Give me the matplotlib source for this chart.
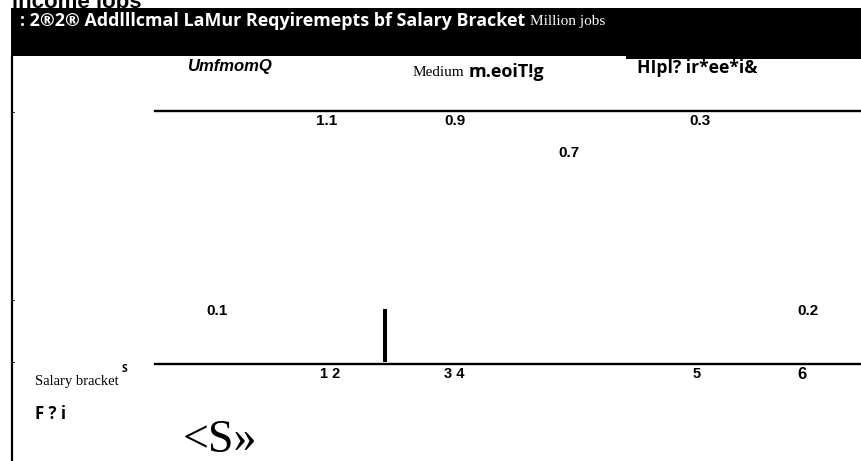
import matplotlib
matplotlib.use("Agg")
import matplotlib.pyplot as plt
from matplotlib.patches import Rectangle

# ---- data ----
title_text = ": 2®2® Addlllcmal LaMur Reqyiremepts bf Salary Bracket"
unit_text = "Million jobs"
top_cut_text = "income jobs"
series_names = ["UmfmomQ", "Medium", "m.eoiT!g", "HIpl? ir*ee*i&"]
value_labels = [1.1, 0.9, 0.3, 0.7, 0.1, 0.2]
tick_labels = ["1 2", "3 4", "5", "6"]
bar_values = [0.25]
axis_label = "Salary bracket"
axis_sup = "S"
note_text = "F ? i"
logo_text = "<S»"

# ---- layout (pixels) ----
W, H = 862, 461
SANS = "Liberation Sans"
SEGOE = "Open Sans"
SERIF = "Liberation Serif"

fig = plt.figure(figsize=(W / 100, H / 100), dpi=100)
bg = fig.add_axes([0, 0, 1, 1])
bg.set_xlim(0, W)
bg.set_ylim(H, 0)
bg.axis("off")

# top cut text
bg.text(12, 8, top_cut_text, fontsize=16, fontweight="bold", family=SANS,
        ha="left", va="baseline", color="black", clip_on=False)

# banner
bg.add_patch(Rectangle((11, 8), W - 11, 48, color="black", lw=0))
bg.add_patch(Rectangle((626, 55), W - 626, 4, color="black", lw=0))
bg.text(20, 21, title_text, fontsize=12.9, fontweight="bold", family=SEGOE,
        color="white", ha="left", va="center")
bg.text(530, 22, unit_text, fontsize=11, family=SERIF, color="white",
        ha="left", va="center")

# left border
bg.plot([12.5, 12.5], [56, H], color="black", lw=1.6, solid_capstyle="butt")
for yy in (112, 300, 362):
    bg.plot([12.5, 14.5], [yy, yy], color="black", lw=0.6)

# series header labels
name_pos = [(187, 67, "left"), (413, 73, "left"), (469, 72, "left"), (637, 68, "left")]
name_style = [dict(family=SANS, fontweight="bold", style="italic", fontsize=12),
              dict(family=SERIF, fontsize=11),
              dict(family=SEGOE, fontweight="bold", fontsize=13),
              dict(family=SEGOE, fontweight="bold", fontsize=12.6)]
for name, (x, y, ha), st in zip(series_names, name_pos, name_style):
    bg.text(x, y, name, ha=ha, va="center", color="black", **st)

# chart axes (two horizontal rules + bar)
ax = fig.add_axes([155 / W, (H - 364) / H, (W - 155) / W, (364 - 111) / H])
ax.set_xlim(155, W)
ax.set_ylim(0, 1.2)
ax.patch.set_alpha(0)
for s in ("left", "right"):
    ax.spines[s].set_visible(False)
for s in ("top", "bottom"):
    ax.spines[s].set_linewidth(1.7)
    ax.spines[s].set_color("black")
ax.set_yticks([])
tick_pos = [330, 454, 697, 802]
ax.set_xticks(tick_pos)
ax.set_xticklabels(tick_labels)
for lbl, fs in zip(ax.get_xticklabels(), [10.5, 10.5, 10.5, 12]):
    lbl.set_fontfamily(SANS)
    lbl.set_fontweight("bold")
    lbl.set_fontsize(fs)
ax.tick_params(axis="x", length=0, pad=2)
ax.bar([385], bar_values, width=4, color="black", bottom=0.01)

# value labels
val_pos = [(327, 121), (455, 121), (700, 121), (569, 153), (217, 311), (808, 311)]
for v, (x, y) in zip(value_labels, val_pos):
    bg.text(x, y, f"{v:.1f}", ha="center", va="center", family=SANS,
            fontweight="bold", fontsize=11, color="black")

# bottom-left texts
bg.text(35, 381, axis_label, family=SERIF, fontsize=10.5, ha="left", va="center")
bg.text(122, 369, axis_sup, family=SEGOE, fontweight="bold", fontsize=7.5,
        ha="left", va="center")
bg.text(35, 414, note_text, family=SEGOE, fontweight="bold", fontsize=12,
        ha="left", va="center")
bg.text(183, 441, logo_text, family=SERIF, fontsize=33, ha="left", va="center")

fig.savefig("out.png", dpi=100)
